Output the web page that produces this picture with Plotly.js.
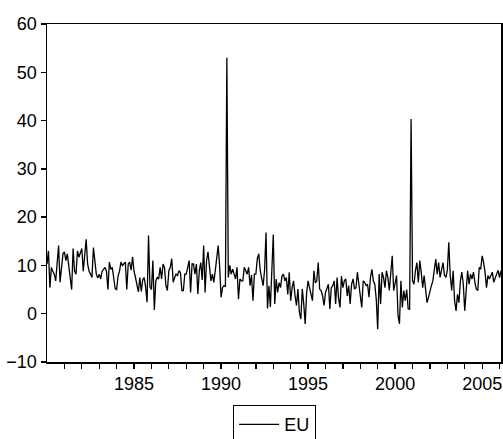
<!DOCTYPE html>
<html>
<head>
<meta charset="utf-8">
<script src="https://cdn.plot.ly/plotly-3.0.1.min.js"></script>
<style>html,body{margin:0;padding:0;background:#fff;}#chart{width:503px;height:439px;}</style>
</head>
<body>
<div id="chart"></div>
<script>
// Monthly series EU, 1980M01 - 2006M02
const startYear = 1980;
const eu1980 = [10.3, 13.0, 5.4, 9.6, 8.8, 8.2, 6.8, 11.7, 14.1, 6.5, 10.0, 12.4];
const eu1981 = [12.8, 11.0, 12.4, 9.6, 8.2, 5.0, 13.5, 8.8, 8.2, 13.0, 11.7, 12.5];
const eu1982 = [13.5, 8.8, 12.4, 15.4, 10.3, 8.8, 8.2, 7.5, 13.7, 10.3, 8.2, 7.4];
const eu1983 = [8.2, 7.2, 8.8, 9.2, 9.6, 8.8, 5.0, 10.7, 9.2, 9.6, 6.8, 5.2];
const eu1984 = [5.0, 7.8, 8.8, 10.7, 10.0, 10.3, 10.7, 5.0, 10.3, 10.7, 9.0, 11.8];
const eu1985 = [8.8, 7.5, 6.1, 4.5, 7.5, 4.6, 7.0, 7.5, 5.5, 2.4, 16.2, 5.5];
const eu1986 = [5.0, 11.0, 0.8, 6.8, 7.5, 7.2, 9.6, 7.2, 10.3, 9.6, 5.8, 4.8];
const eu1987 = [8.9, 9.6, 11.4, 6.5, 7.5, 8.2, 7.9, 8.9, 8.5, 4.8, 4.8, 8.2];
const eu1988 = [8.2, 9.6, 11.0, 4.4, 10.3, 10.3, 8.2, 10.3, 4.1, 8.9, 10.6, 7.0];
const eu1989 = [14.1, 4.4, 11.0, 12.8, 10.3, 6.8, 8.2, 6.5, 8.9, 11.0, 14.1, 10.0];
const eu1990 = [3.4, 5.4, 5.8, 5.6, 53.0, 7.5, 10.0, 8.2, 9.2, 8.2, 7.2, 9.6];
const eu1991 = [3.0, 7.2, 6.8, 6.8, 9.6, 8.9, 8.2, 9.6, 5.8, 8.0, 2.7, 8.2];
const eu1992 = [8.2, 11.4, 12.4, 8.9, 7.2, 5.8, 9.0, 16.8, 1.1, 5.8, 1.4, 8.9];
const eu1993 = [16.4, 2.0, 7.2, 4.4, 6.4, 5.4, 7.8, 8.2, 6.8, 7.5, 4.0, 8.6];
const eu1994 = [2.7, 5.4, 6.8, 3.7, 1.7, 5.1, 0.3, -1.1, 5.1, 2.0, -2.1, 4.4];
const eu1995 = [6.8, 5.4, 4.0, 2.7, 8.9, 6.4, 6.8, 10.6, 5.1, 4.8, 3.7, 1.7];
const eu1996 = [4.4, 5.4, 6.1, 1.0, 5.4, 5.8, 6.8, 2.0, 7.5, 3.2, 1.3, 7.8];
const eu1997 = [5.4, 6.8, 7.2, 3.7, 5.8, 2.0, 6.1, 7.2, 5.1, 5.4, 8.6, 6.1];
const eu1998 = [4.0, 1.3, 6.8, 6.5, 5.8, 6.1, 3.4, 7.5, 9.2, 6.8, 6.1, 3.0];
const eu1999 = [-3.2, 8.2, 2.0, 8.6, 7.5, 5.4, 8.9, 7.5, 4.8, 8.2, 12.0, 4.8];
const eu2000 = [6.8, 7.9, -0.4, -2.1, 6.8, 1.3, 4.8, 2.7, 5.0, 1.0, 0.9, 40.3];
const eu2001 = [6.8, 6.1, 8.9, 10.6, 6.5, 11.0, 8.6, 5.4, 7.9, 4.4, 2.3, 3.4];
const eu2002 = [4.8, 5.8, 6.8, 8.9, 11.3, 8.2, 10.6, 7.5, 9.5, 10.6, 8.0, 7.5];
const eu2003 = [9.0, 14.8, 7.9, 4.8, 8.9, 2.7, 0.6, 4.0, 2.3, 6.8, 8.6, 6.1];
const eu2004 = [0.6, 5.1, 8.9, 6.1, 8.2, 7.2, 8.6, 6.5, 5.1, 4.8, 9.6, 9.2];
const eu2005 = [12.0, 10.6, 8.6, 5.4, 7.9, 7.2, 7.9, 8.6, 6.5, 7.2, 8.2, 9.0];
const eu2006 = [7.5, 8.9];

const euValues = [].concat(eu1980, eu1981, eu1982, eu1983, eu1984, eu1985, eu1986,
  eu1987, eu1988, eu1989, eu1990, eu1991, eu1992, eu1993, eu1994, eu1995, eu1996,
  eu1997, eu1998, eu1999, eu2000, eu2001, eu2002, eu2003, eu2004, eu2005, eu2006);
const xTime = euValues.map((v, i) => startYear + i / 12);

const yearTicks = [1981,1982,1983,1984,1985,1986,1987,1988,1989,1990,1991,1992,1993,
  1994,1995,1996,1997,1998,1999,2000,2001,2002,2003,2004,2005,2006];
const yearLabels = yearTicks.map(y => (y % 5 === 0 ? String(y) : ''));
const yTicks = [-10, 0, 10, 20, 30, 40, 50, 60];

const font = {family: 'Liberation Sans, Arial, sans-serif', size: 18, color: '#000'};

Plotly.newPlot('chart', [{
  x: xTime, y: euValues, type: 'scatter', mode: 'lines', name: 'EU',
  line: {color: '#000', width: 1.3}
}], {
  width: 503, height: 439,
  margin: {l: 47, r: 2, t: 24, b: 77, pad: 0, autoexpand: false},
  paper_bgcolor: '#fff', plot_bgcolor: '#fff',
  font: font,
  showlegend: true,
  legend: {x: 0.41, y: -0.128, xanchor: 'left', yanchor: 'top', bordercolor: '#000',
    borderwidth: 1, bgcolor: '#fff', font: font, itemwidth: 40},
  xaxis: {range: [1980, 2006.083], tickmode: 'array', tickvals: yearTicks, ticktext: yearLabels,
    ticks: 'outside', ticklen: 5, tickwidth: 1.3, tickcolor: '#000', showgrid: false,
    zeroline: false, showline: true, linecolor: '#000', linewidth: 1.5, mirror: true,
    tickfont: font},
  yaxis: {range: [-10, 60], tickmode: 'array', tickvals: yTicks,
    ticks: 'outside', ticklen: 5, tickwidth: 1.3, tickcolor: '#000', showgrid: false,
    zeroline: false, showline: true, linecolor: '#000', linewidth: 1.5, mirror: true,
    tickfont: font}
}, {displayModeBar: false, staticPlot: true});
</script>
</body>
</html>
